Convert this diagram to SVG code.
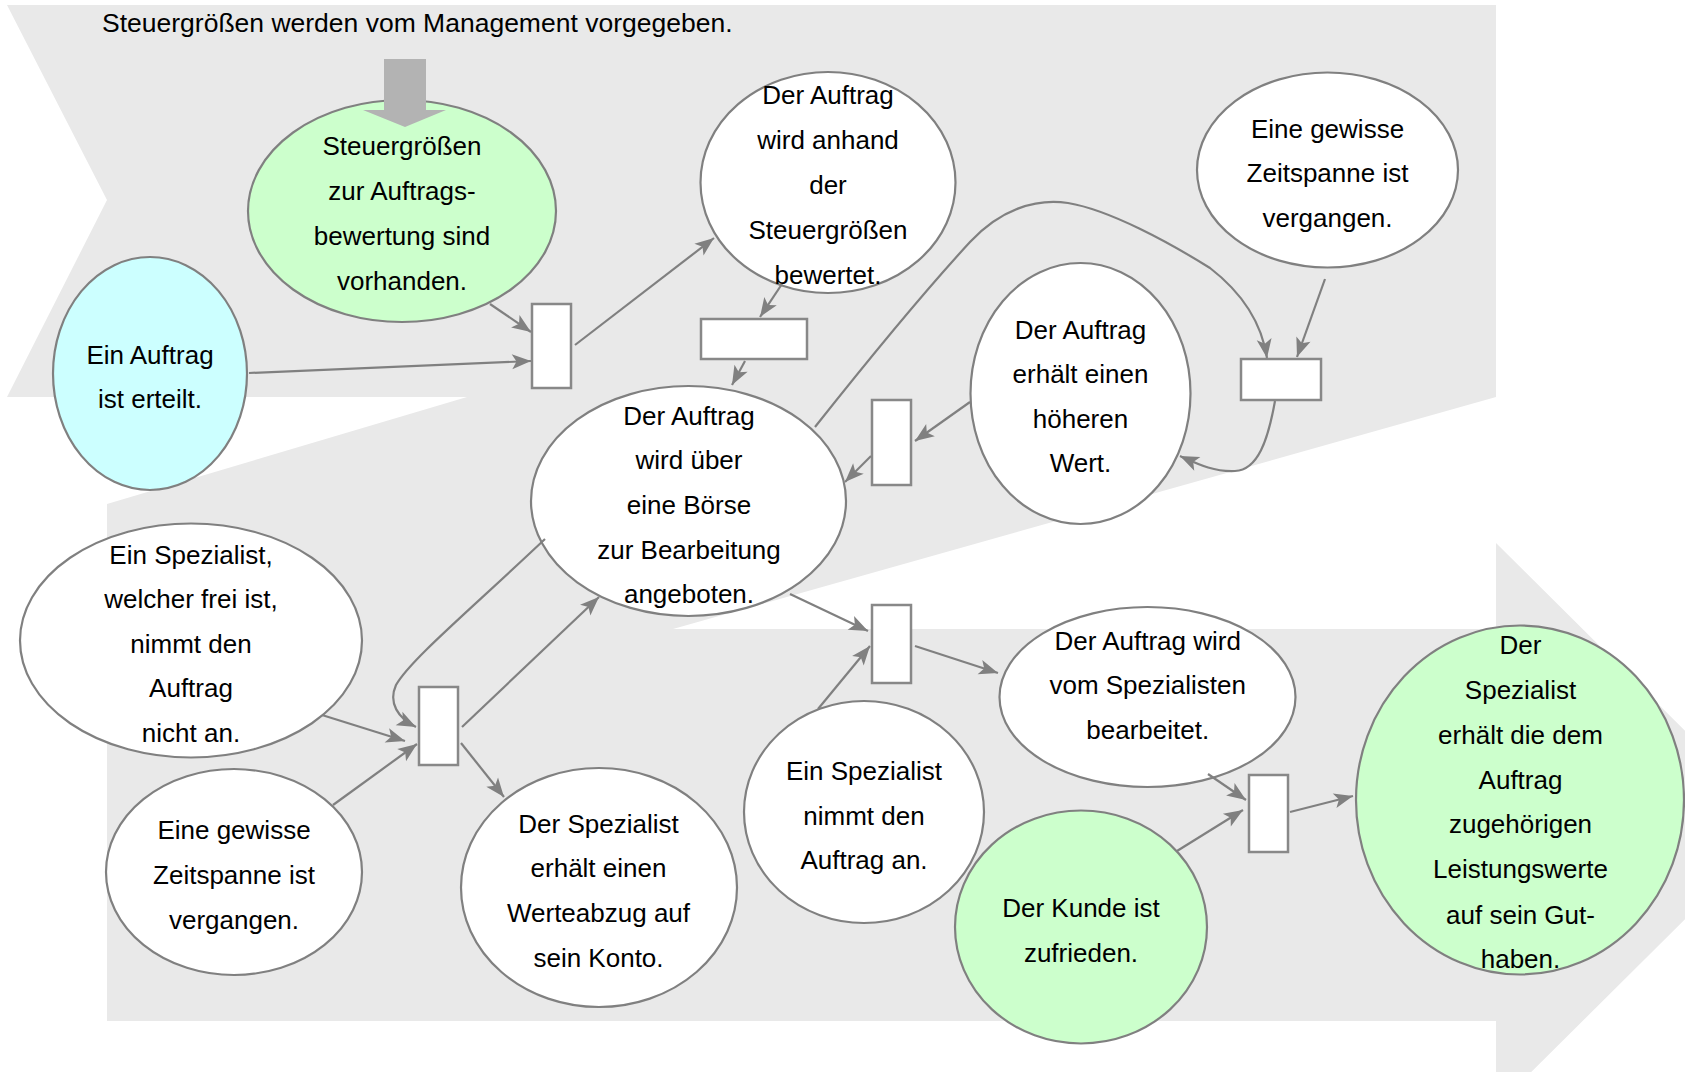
<svg xmlns="http://www.w3.org/2000/svg" width="1685" height="1072" viewBox="0 0 1685 1072">
<defs>
<style>
.t{font-family:"Liberation Sans",Arial,sans-serif;font-size:26px;text-anchor:middle;fill:#000}
.n{stroke:#808080;stroke-width:2.2}
.w{fill:#ffffff}
.g{fill:#ccffcc}
.c{fill:#ccffff}
.tr{fill:#ffffff;stroke:#888888;stroke-width:2.5}
.e{fill:none;stroke:#808080;stroke-width:2.2;marker-end:url(#ah)}
</style>
<marker id="ah" markerWidth="22" markerHeight="18" refX="20" refY="9" orient="auto" markerUnits="userSpaceOnUse" viewBox="0 0 22 18">
<path d="M20,9 L1,1.5 L5.5,9 L1,16.5 Z" fill="#808080"/>
</marker>
</defs>
<rect x="0" y="0" width="1685" height="1072" fill="#ffffff"/>
<g id="background">
<polygon points="7,5 1496,5 1496,397 673,629 1496,629 1496,543 1780,825 1496,1107 1496,1021 107,1021 107,504 467,397 7,397 107,200" fill="#e9e9e9"/>
</g>
<text class="t" x="102" y="32" style="text-anchor:start;font-size:26.5px">Steuergrößen werden vom Management vorgegeben.</text>

<g id="n_steuer">
<ellipse class="n g" cx="402" cy="211" rx="154" ry="111"/>
<text class="t" x="402" y="155">Steuergrößen</text>
<text class="t" x="402" y="200">zur Auftrags-</text>
<text class="t" x="402" y="244.5">bewertung sind</text>
<text class="t" x="402" y="289.5">vorhanden.</text>
</g>
<g id="n_erteilt">
<ellipse class="n c" cx="150" cy="373.5" rx="97" ry="116.5"/>
<text class="t" x="150" y="363.6">Ein Auftrag</text>
<text class="t" x="150" y="407.7">ist erteilt.</text>
</g>
<g id="n_bewertet">
<ellipse class="n w" cx="828" cy="182.5" rx="127.5" ry="110.5"/>
<text class="t" x="828" y="103.6">Der Auftrag</text>
<text class="t" x="828" y="148.7">wird anhand</text>
<text class="t" x="828" y="193.8">der</text>
<text class="t" x="828" y="239">Steuergrößen</text>
<text class="t" x="828" y="284">bewertet.</text>
</g>
<g id="n_zeit1">
<ellipse class="n w" cx="1327.5" cy="170" rx="130.5" ry="97.5"/>
<text class="t" x="1327.5" y="138">Eine gewisse</text>
<text class="t" x="1327.5" y="182">Zeitspanne ist</text>
<text class="t" x="1327.5" y="227">vergangen.</text>
</g>
<g id="n_hoeher">
<ellipse class="n w" cx="1080.5" cy="393.5" rx="110" ry="130.5"/>
<text class="t" x="1080.5" y="339">Der Auftrag</text>
<text class="t" x="1080.5" y="383">erhält einen</text>
<text class="t" x="1080.5" y="428">höheren</text>
<text class="t" x="1080.5" y="472">Wert.</text>
</g>
<g id="n_boerse">
<ellipse class="n w" cx="688.5" cy="501" rx="157.5" ry="115"/>
<text class="t" x="689" y="425">Der Auftrag</text>
<text class="t" x="689" y="469">wird über</text>
<text class="t" x="689" y="514">eine Börse</text>
<text class="t" x="689" y="559">zur Bearbeitung</text>
<text class="t" x="689" y="603">angeboten.</text>
</g>
<g id="n_nichtan">
<ellipse class="n w" cx="191" cy="640.5" rx="171" ry="117"/>
<text class="t" x="191" y="563.5">Ein Spezialist,</text>
<text class="t" x="191" y="607.6">welcher frei ist,</text>
<text class="t" x="191" y="652.7">nimmt den</text>
<text class="t" x="191" y="696.7">Auftrag</text>
<text class="t" x="191" y="742">nicht an.</text>
</g>
<g id="n_zeit2">
<ellipse class="n w" cx="234" cy="872" rx="128" ry="103"/>
<text class="t" x="234" y="838.6">Eine gewisse</text>
<text class="t" x="234" y="883.7">Zeitspanne ist</text>
<text class="t" x="234" y="929">vergangen.</text>
</g>
<g id="n_abzug">
<ellipse class="n w" cx="599" cy="887.5" rx="138" ry="119.5"/>
<text class="t" x="598.5" y="833">Der Spezialist</text>
<text class="t" x="598.5" y="877">erhält einen</text>
<text class="t" x="598.5" y="922.4">Werteabzug auf</text>
<text class="t" x="598.5" y="966.5">sein Konto.</text>
</g>
<g id="n_nimmt">
<ellipse class="n w" cx="864" cy="812" rx="120" ry="111"/>
<text class="t" x="864" y="779.5">Ein Spezialist</text>
<text class="t" x="864" y="824.6">nimmt den</text>
<text class="t" x="864" y="868.7">Auftrag an.</text>
</g>
<g id="n_bearbeitet">
<ellipse class="n w" cx="1147.5" cy="697" rx="148" ry="90"/>
<text class="t" x="1147.7" y="649.5">Der Auftrag wird</text>
<text class="t" x="1147.7" y="693.5">vom Spezialisten</text>
<text class="t" x="1147.7" y="738.7">bearbeitet.</text>
</g>
<g id="n_kunde">
<ellipse class="n g" cx="1081" cy="927" rx="126" ry="116.5"/>
<text class="t" x="1081" y="917">Der Kunde ist</text>
<text class="t" x="1081" y="962">zufrieden.</text>
</g>
<g id="n_gutschrift">
<ellipse class="n g" cx="1520" cy="800" rx="164" ry="174.5"/>
<text class="t" x="1520.5" y="653.8">Der</text>
<text class="t" x="1520.5" y="699">Spezialist</text>
<text class="t" x="1520.5" y="744">erhält die dem</text>
<text class="t" x="1520.5" y="789">Auftrag</text>
<text class="t" x="1520.5" y="833">zugehörigen</text>
<text class="t" x="1520.5" y="878">Leistungswerte</text>
<text class="t" x="1520.5" y="923.5">auf sein Gut-</text>
<text class="t" x="1520.5" y="967.5">haben.</text>
</g>

<g id="t1"><rect class="tr" x="532" y="304" width="39" height="84"/></g>
<g id="t2"><rect class="tr" x="701" y="319" width="106" height="40"/></g>
<g id="t3"><rect class="tr" x="872" y="400" width="39" height="85"/></g>
<g id="t4"><rect class="tr" x="1241" y="359" width="80" height="41"/></g>
<g id="t5"><rect class="tr" x="419" y="687" width="39" height="78"/></g>
<g id="t6"><rect class="tr" x="872" y="605" width="39" height="78"/></g>
<g id="t7"><rect class="tr" x="1249" y="775" width="39" height="77"/></g>

<g id="connectors">
<path class="e" d="M249,373 L531,361"/>
<path class="e" d="M490,304 L531,332"/>
<path class="e" d="M575,345 L714,238"/>
<path class="e" d="M782,284 L760,317"/>
<path class="e" d="M745,361 L732,385"/>
<path class="e" d="M970,402 L915,441"/>
<path class="e" d="M871,456 L845,482"/>
<path class="e" d="M815,427 C880,345 935,280 970,242 C1000,210 1035,198 1068,203 C1110,210 1170,243 1210,268 C1245,295 1262,325 1267,358"/>
<path class="e" d="M1325,279 L1297,357"/>
<path class="e" d="M1275,401 C1268,440 1258,470 1235,471 C1215,472 1200,465 1180,456"/>
<path class="e" d="M545,539 C470,610 410,660 396,685 C388,703 398,718 416,727"/>
<path class="e" d="M322,715 L405,741"/>
<path class="e" d="M333,805 L417,744"/>
<path class="e" d="M462,727 L599,597"/>
<path class="e" d="M461,743 L504,797"/>
<path class="e" d="M790,594 L868,631"/>
<path class="e" d="M818,709 L870,646"/>
<path class="e" d="M915,646 L998,673"/>
<path class="e" d="M1208,774 L1246,800"/>
<path class="e" d="M1177,851 L1243,810"/>
<path class="e" d="M1290,812 L1353,796"/>
</g>

<g id="management_arrow">
<polygon points="384,59 426,59 426,110 446,110 405,127 363,110 384,110" fill="#b3b3b3"/>
</g>
</svg>
